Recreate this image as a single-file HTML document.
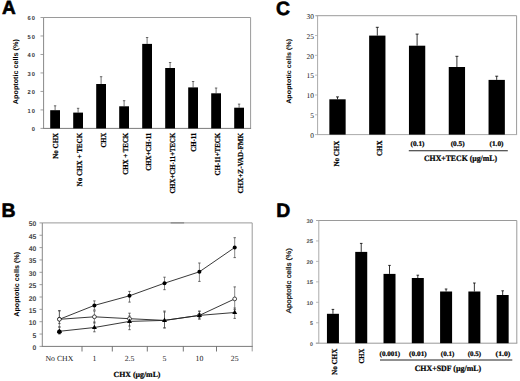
<!DOCTYPE html>
<html><head><meta charset="utf-8"><style>
html,body{margin:0;padding:0;background:#fff;}
body{width:520px;height:381px;overflow:hidden;}
svg{display:block;} text{text-rendering:geometricPrecision;}
</style></head><body>
<svg width="520" height="381" viewBox="0 0 520 381">
<rect width="520" height="381" fill="#fff"/>
<text x="1.9" y="14.3" font-family='"Liberation Sans", sans-serif' font-weight="bold" font-size="19" text-anchor="start" fill="#000" stroke="#000" stroke-width="0.6">A</text>
<line x1="43.6" y1="17.5" x2="250.6" y2="17.5" stroke="#9a9a9a" stroke-width="1"/>
<line x1="250.6" y1="17.5" x2="250.6" y2="128.4" stroke="#9a9a9a" stroke-width="1"/>
<line x1="43.6" y1="17.5" x2="43.6" y2="128.4" stroke="#888888" stroke-width="1"/>
<line x1="43.1" y1="128.4" x2="251.1" y2="128.4" stroke="#7a7a7a" stroke-width="1"/>
<line x1="40.5" y1="128.4" x2="43.6" y2="128.4" stroke="#888888" stroke-width="0.8"/>
<text x="33.45" y="131.3" font-family='"Liberation Sans", sans-serif' font-weight="bold" font-size="5.8" text-anchor="middle" fill="#3a3a3a" textLength="3.2" lengthAdjust="spacingAndGlyphs">0</text>
<line x1="40.5" y1="109.92" x2="43.6" y2="109.92" stroke="#888888" stroke-width="0.8"/>
<text x="33.45" y="112.82" font-family='"Liberation Sans", sans-serif' font-weight="bold" font-size="5.8" text-anchor="middle" fill="#3a3a3a" textLength="3.2" lengthAdjust="spacingAndGlyphs">0</text>
<text x="29" y="112.82" font-family='"Liberation Sans", sans-serif' font-weight="bold" font-size="5.8" text-anchor="middle" fill="#3a3a3a" textLength="3.2" lengthAdjust="spacingAndGlyphs">1</text>
<line x1="40.5" y1="91.43" x2="43.6" y2="91.43" stroke="#888888" stroke-width="0.8"/>
<text x="33.45" y="94.33" font-family='"Liberation Sans", sans-serif' font-weight="bold" font-size="5.8" text-anchor="middle" fill="#3a3a3a" textLength="3.2" lengthAdjust="spacingAndGlyphs">0</text>
<text x="29" y="94.33" font-family='"Liberation Sans", sans-serif' font-weight="bold" font-size="5.8" text-anchor="middle" fill="#3a3a3a" textLength="3.2" lengthAdjust="spacingAndGlyphs">2</text>
<line x1="40.5" y1="72.95" x2="43.6" y2="72.95" stroke="#888888" stroke-width="0.8"/>
<text x="33.45" y="75.85" font-family='"Liberation Sans", sans-serif' font-weight="bold" font-size="5.8" text-anchor="middle" fill="#3a3a3a" textLength="3.2" lengthAdjust="spacingAndGlyphs">0</text>
<text x="29" y="75.85" font-family='"Liberation Sans", sans-serif' font-weight="bold" font-size="5.8" text-anchor="middle" fill="#3a3a3a" textLength="3.2" lengthAdjust="spacingAndGlyphs">3</text>
<line x1="40.5" y1="54.47" x2="43.6" y2="54.47" stroke="#888888" stroke-width="0.8"/>
<text x="33.45" y="57.37" font-family='"Liberation Sans", sans-serif' font-weight="bold" font-size="5.8" text-anchor="middle" fill="#3a3a3a" textLength="3.2" lengthAdjust="spacingAndGlyphs">0</text>
<text x="29" y="57.37" font-family='"Liberation Sans", sans-serif' font-weight="bold" font-size="5.8" text-anchor="middle" fill="#3a3a3a" textLength="3.2" lengthAdjust="spacingAndGlyphs">4</text>
<line x1="40.5" y1="35.98" x2="43.6" y2="35.98" stroke="#888888" stroke-width="0.8"/>
<text x="33.45" y="38.88" font-family='"Liberation Sans", sans-serif' font-weight="bold" font-size="5.8" text-anchor="middle" fill="#3a3a3a" textLength="3.2" lengthAdjust="spacingAndGlyphs">0</text>
<text x="29" y="38.88" font-family='"Liberation Sans", sans-serif' font-weight="bold" font-size="5.8" text-anchor="middle" fill="#3a3a3a" textLength="3.2" lengthAdjust="spacingAndGlyphs">5</text>
<line x1="40.5" y1="17.5" x2="43.6" y2="17.5" stroke="#888888" stroke-width="0.8"/>
<text x="33.45" y="20.4" font-family='"Liberation Sans", sans-serif' font-weight="bold" font-size="5.8" text-anchor="middle" fill="#3a3a3a" textLength="3.2" lengthAdjust="spacingAndGlyphs">0</text>
<text x="29" y="20.4" font-family='"Liberation Sans", sans-serif' font-weight="bold" font-size="5.8" text-anchor="middle" fill="#3a3a3a" textLength="3.2" lengthAdjust="spacingAndGlyphs">6</text>
<text x="17.8" y="71.65" font-family='"Liberation Sans", sans-serif' font-weight="bold" font-size="7.0" text-anchor="middle" fill="#000" transform="rotate(-90 17.8 71.65)" textLength="65" lengthAdjust="spacingAndGlyphs">Apoptotic cells (%)</text>
<line x1="55.1" y1="105.8" x2="55.1" y2="110.2" stroke="#333" stroke-width="0.7"/>
<line x1="53.9" y1="105.8" x2="56.3" y2="105.8" stroke="#333" stroke-width="0.7"/>
<rect x="50.2" y="110.2" width="9.8" height="18.2" fill="#000"/>
<text x="58.3" y="132.8" font-family='"Liberation Serif", serif' font-weight="bold" font-size="7.6" text-anchor="end" fill="#000" transform="rotate(-90 58.3 132.8)" textLength="26" lengthAdjust="spacingAndGlyphs" stroke="#000" stroke-width="0.22">No CHX</text>
<line x1="78.1" y1="108.3" x2="78.1" y2="112.6" stroke="#333" stroke-width="0.7"/>
<line x1="76.9" y1="108.3" x2="79.3" y2="108.3" stroke="#333" stroke-width="0.7"/>
<rect x="73.2" y="112.6" width="9.8" height="15.8" fill="#000"/>
<text x="81.65" y="132.8" font-family='"Liberation Serif", serif' font-weight="bold" font-size="7.6" text-anchor="end" fill="#000" transform="rotate(-90 81.65 132.8)" textLength="53.6" lengthAdjust="spacingAndGlyphs" stroke="#000" stroke-width="0.22">No CHX + TECK</text>
<line x1="101.1" y1="76.7" x2="101.1" y2="84" stroke="#333" stroke-width="0.7"/>
<line x1="99.9" y1="76.7" x2="102.3" y2="76.7" stroke="#333" stroke-width="0.7"/>
<rect x="96.2" y="84" width="9.8" height="44.4" fill="#000"/>
<text x="105.9" y="132.8" font-family='"Liberation Serif", serif' font-weight="bold" font-size="7.6" text-anchor="end" fill="#000" transform="rotate(-90 105.9 132.8)" textLength="14.7" lengthAdjust="spacingAndGlyphs" stroke="#000" stroke-width="0.22">CHX</text>
<line x1="124.1" y1="100.7" x2="124.1" y2="106.3" stroke="#333" stroke-width="0.7"/>
<line x1="122.9" y1="100.7" x2="125.3" y2="100.7" stroke="#333" stroke-width="0.7"/>
<rect x="119.2" y="106.3" width="9.8" height="22.1" fill="#000"/>
<text x="127.75" y="132.8" font-family='"Liberation Serif", serif' font-weight="bold" font-size="7.6" text-anchor="end" fill="#000" transform="rotate(-90 127.75 132.8)" textLength="42" lengthAdjust="spacingAndGlyphs" stroke="#000" stroke-width="0.22">CHX + TECK</text>
<line x1="147.1" y1="37.5" x2="147.1" y2="43.9" stroke="#333" stroke-width="0.7"/>
<line x1="145.9" y1="37.5" x2="148.3" y2="37.5" stroke="#333" stroke-width="0.7"/>
<rect x="142.2" y="43.9" width="9.8" height="84.5" fill="#000"/>
<text x="150.95" y="132.8" font-family='"Liberation Serif", serif' font-weight="bold" font-size="7.6" text-anchor="end" fill="#000" transform="rotate(-90 150.95 132.8)" textLength="37.9" lengthAdjust="spacingAndGlyphs" stroke="#000" stroke-width="0.22">CHX+CH-11</text>
<line x1="170.1" y1="62.5" x2="170.1" y2="68" stroke="#333" stroke-width="0.7"/>
<line x1="168.9" y1="62.5" x2="171.3" y2="62.5" stroke="#333" stroke-width="0.7"/>
<rect x="165.2" y="68" width="9.8" height="60.4" fill="#000"/>
<text x="174.6" y="132.8" font-family='"Liberation Serif", serif' font-weight="bold" font-size="7.6" text-anchor="end" fill="#000" transform="rotate(-90 174.6 132.8)" textLength="60.8" lengthAdjust="spacingAndGlyphs" stroke="#000" stroke-width="0.22">CHX+CH-11+TECK</text>
<line x1="193.1" y1="81.5" x2="193.1" y2="87.4" stroke="#333" stroke-width="0.7"/>
<line x1="191.9" y1="81.5" x2="194.3" y2="81.5" stroke="#333" stroke-width="0.7"/>
<rect x="188.2" y="87.4" width="9.8" height="41" fill="#000"/>
<text x="195.85" y="132.8" font-family='"Liberation Serif", serif' font-weight="bold" font-size="7.6" text-anchor="end" fill="#000" transform="rotate(-90 195.85 132.8)" textLength="19" lengthAdjust="spacingAndGlyphs" stroke="#000" stroke-width="0.22">CH-11</text>
<line x1="216.1" y1="88" x2="216.1" y2="93.3" stroke="#333" stroke-width="0.7"/>
<line x1="214.9" y1="88" x2="217.3" y2="88" stroke="#333" stroke-width="0.7"/>
<rect x="211.2" y="93.3" width="9.8" height="35.1" fill="#000"/>
<text x="219.6" y="132.8" font-family='"Liberation Serif", serif' font-weight="bold" font-size="7.6" text-anchor="end" fill="#000" transform="rotate(-90 219.6 132.8)" textLength="42.7" lengthAdjust="spacingAndGlyphs" stroke="#000" stroke-width="0.22">CH-11+TECK</text>
<line x1="239.1" y1="104.1" x2="239.1" y2="107.7" stroke="#333" stroke-width="0.7"/>
<line x1="237.9" y1="104.1" x2="240.3" y2="104.1" stroke="#333" stroke-width="0.7"/>
<rect x="234.2" y="107.7" width="9.8" height="20.7" fill="#000"/>
<text x="243.25" y="132.8" font-family='"Liberation Serif", serif' font-weight="bold" font-size="7.6" text-anchor="end" fill="#000" transform="rotate(-90 243.25 132.8)" textLength="60.8" lengthAdjust="spacingAndGlyphs" stroke="#000" stroke-width="0.22">CHX+Z-VAD-FMK</text>
<text x="275.9" y="14.6" font-family='"Liberation Sans", sans-serif' font-weight="bold" font-size="19.4" text-anchor="start" fill="#000" stroke="#000" stroke-width="0.6">C</text>
<line x1="316.1" y1="15.7" x2="516.6" y2="15.7" stroke="#9a9a9a" stroke-width="1"/>
<line x1="516.6" y1="15.7" x2="516.6" y2="134.6" stroke="#9a9a9a" stroke-width="1"/>
<line x1="317.6" y1="15.7" x2="317.6" y2="134.6" stroke="#aaaaaa" stroke-width="1"/>
<line x1="317.1" y1="134.6" x2="517.1" y2="134.6" stroke="#aaaaaa" stroke-width="1"/>
<line x1="315" y1="134.6" x2="317.6" y2="134.6" stroke="#aaaaaa" stroke-width="0.8"/>
<text x="314" y="137.9" font-family='"Liberation Serif", serif' font-weight="normal" font-size="7.4" text-anchor="end" fill="#111">0</text>
<line x1="315" y1="114.78" x2="317.6" y2="114.78" stroke="#aaaaaa" stroke-width="0.8"/>
<text x="314" y="118.08" font-family='"Liberation Serif", serif' font-weight="normal" font-size="7.4" text-anchor="end" fill="#111">5</text>
<line x1="315" y1="94.97" x2="317.6" y2="94.97" stroke="#aaaaaa" stroke-width="0.8"/>
<text x="314" y="98.27" font-family='"Liberation Serif", serif' font-weight="normal" font-size="7.4" text-anchor="end" fill="#111">10</text>
<line x1="315" y1="75.15" x2="317.6" y2="75.15" stroke="#aaaaaa" stroke-width="0.8"/>
<text x="314" y="78.45" font-family='"Liberation Serif", serif' font-weight="normal" font-size="7.4" text-anchor="end" fill="#111">15</text>
<line x1="315" y1="55.33" x2="317.6" y2="55.33" stroke="#aaaaaa" stroke-width="0.8"/>
<text x="314" y="58.63" font-family='"Liberation Serif", serif' font-weight="normal" font-size="7.4" text-anchor="end" fill="#111">20</text>
<line x1="315" y1="35.52" x2="317.6" y2="35.52" stroke="#aaaaaa" stroke-width="0.8"/>
<text x="314" y="38.82" font-family='"Liberation Serif", serif' font-weight="normal" font-size="7.4" text-anchor="end" fill="#111">25</text>
<line x1="315" y1="15.7" x2="317.6" y2="15.7" stroke="#aaaaaa" stroke-width="0.8"/>
<text x="314" y="19" font-family='"Liberation Serif", serif' font-weight="normal" font-size="7.4" text-anchor="end" fill="#111">30</text>
<text x="291" y="71.35" font-family='"Liberation Sans", sans-serif' font-weight="bold" font-size="6.6" text-anchor="middle" fill="#000" transform="rotate(-90 291 71.35)" textLength="65" lengthAdjust="spacingAndGlyphs">Apoptotic cells (%)</text>
<line x1="337.5" y1="96.9" x2="337.5" y2="99.3" stroke="#000" stroke-width="0.8"/>
<line x1="336" y1="96.9" x2="339" y2="96.9" stroke="#000" stroke-width="0.8"/>
<rect x="329.35" y="99.3" width="16.3" height="35.3" fill="#000"/>
<line x1="377.3" y1="27.3" x2="377.3" y2="35.6" stroke="#000" stroke-width="0.8"/>
<line x1="375.8" y1="27.3" x2="378.8" y2="27.3" stroke="#000" stroke-width="0.8"/>
<rect x="369.15" y="35.6" width="16.3" height="99" fill="#000"/>
<line x1="417.1" y1="34.1" x2="417.1" y2="45.7" stroke="#000" stroke-width="0.8"/>
<line x1="415.6" y1="34.1" x2="418.6" y2="34.1" stroke="#000" stroke-width="0.8"/>
<rect x="408.95" y="45.7" width="16.3" height="88.9" fill="#000"/>
<line x1="456.9" y1="56.3" x2="456.9" y2="67" stroke="#000" stroke-width="0.8"/>
<line x1="455.4" y1="56.3" x2="458.4" y2="56.3" stroke="#000" stroke-width="0.8"/>
<rect x="448.75" y="67" width="16.3" height="67.6" fill="#000"/>
<line x1="496.7" y1="76.2" x2="496.7" y2="79.9" stroke="#000" stroke-width="0.8"/>
<line x1="495.2" y1="76.2" x2="498.2" y2="76.2" stroke="#000" stroke-width="0.8"/>
<rect x="488.55" y="79.9" width="16.3" height="54.7" fill="#000"/>
<text x="338.8" y="140.6" font-family='"Liberation Serif", serif' font-weight="bold" font-size="7.6" text-anchor="end" fill="#000" transform="rotate(-90 338.8 140.6)" textLength="26" lengthAdjust="spacingAndGlyphs" stroke="#000" stroke-width="0.22">No CHX</text>
<text x="382.3" y="140.6" font-family='"Liberation Serif", serif' font-weight="bold" font-size="7.6" text-anchor="end" fill="#000" transform="rotate(-90 382.3 140.6)" textLength="15.3" lengthAdjust="spacingAndGlyphs" stroke="#000" stroke-width="0.22">CHX</text>
<text x="417.5" y="146.3" font-family='"Liberation Serif", serif' font-weight="bold" font-size="7.1" text-anchor="middle" fill="#000" textLength="14" lengthAdjust="spacingAndGlyphs" stroke="#000" stroke-width="0.22">(0.1)</text>
<text x="457.7" y="146.3" font-family='"Liberation Serif", serif' font-weight="bold" font-size="7.1" text-anchor="middle" fill="#000" textLength="14" lengthAdjust="spacingAndGlyphs" stroke="#000" stroke-width="0.22">(0.5)</text>
<text x="496.5" y="146.3" font-family='"Liberation Serif", serif' font-weight="bold" font-size="7.1" text-anchor="middle" fill="#000" textLength="14" lengthAdjust="spacingAndGlyphs" stroke="#000" stroke-width="0.22">(1.0)</text>
<line x1="408.8" y1="150.7" x2="507.8" y2="150.7" stroke="#222" stroke-width="1.1"/>
<text x="460.5" y="161.3" font-family='"Liberation Serif", serif' font-weight="bold" font-size="8.3" text-anchor="middle" fill="#000" textLength="73" lengthAdjust="spacingAndGlyphs" stroke="#000" stroke-width="0.22">CHX+TECK (µg/mL)</text>
<text x="1.4" y="217.3" font-family='"Liberation Sans", sans-serif' font-weight="bold" font-size="19.4" text-anchor="start" fill="#000" stroke="#000" stroke-width="0.6">B</text>
<line x1="42.3" y1="222.9" x2="252.2" y2="222.9" stroke="#9a9a9a" stroke-width="1"/>
<line x1="252.2" y1="222.9" x2="252.2" y2="351.4" stroke="#9a9a9a" stroke-width="1"/>
<line x1="170.7" y1="222.9" x2="184.1" y2="222.9" stroke="#777" stroke-width="1"/>
<line x1="42.3" y1="222.9" x2="42.3" y2="346.4" stroke="#888888" stroke-width="1"/>
<line x1="41.8" y1="346.4" x2="252.7" y2="346.4" stroke="#7a7a7a" stroke-width="1"/>
<line x1="39.5" y1="346.4" x2="42.3" y2="346.4" stroke="#888888" stroke-width="0.8"/>
<text x="36.2" y="349.9" font-family='"Liberation Sans", sans-serif' font-weight="bold" font-size="6.8" text-anchor="end" fill="#4a4a4a">0</text>
<line x1="39.5" y1="334.05" x2="42.3" y2="334.05" stroke="#888888" stroke-width="0.8"/>
<text x="36.2" y="337.55" font-family='"Liberation Sans", sans-serif' font-weight="bold" font-size="6.8" text-anchor="end" fill="#4a4a4a">5</text>
<line x1="39.5" y1="321.7" x2="42.3" y2="321.7" stroke="#888888" stroke-width="0.8"/>
<text x="36.2" y="325.2" font-family='"Liberation Sans", sans-serif' font-weight="bold" font-size="6.8" text-anchor="end" fill="#4a4a4a">10</text>
<line x1="39.5" y1="309.35" x2="42.3" y2="309.35" stroke="#888888" stroke-width="0.8"/>
<text x="36.2" y="312.85" font-family='"Liberation Sans", sans-serif' font-weight="bold" font-size="6.8" text-anchor="end" fill="#4a4a4a">15</text>
<line x1="39.5" y1="297" x2="42.3" y2="297" stroke="#888888" stroke-width="0.8"/>
<text x="36.2" y="300.5" font-family='"Liberation Sans", sans-serif' font-weight="bold" font-size="6.8" text-anchor="end" fill="#4a4a4a">20</text>
<line x1="39.5" y1="284.65" x2="42.3" y2="284.65" stroke="#888888" stroke-width="0.8"/>
<text x="36.2" y="288.15" font-family='"Liberation Sans", sans-serif' font-weight="bold" font-size="6.8" text-anchor="end" fill="#4a4a4a">25</text>
<line x1="39.5" y1="272.3" x2="42.3" y2="272.3" stroke="#888888" stroke-width="0.8"/>
<text x="36.2" y="275.8" font-family='"Liberation Sans", sans-serif' font-weight="bold" font-size="6.8" text-anchor="end" fill="#4a4a4a">30</text>
<line x1="39.5" y1="259.95" x2="42.3" y2="259.95" stroke="#888888" stroke-width="0.8"/>
<text x="36.2" y="263.45" font-family='"Liberation Sans", sans-serif' font-weight="bold" font-size="6.8" text-anchor="end" fill="#4a4a4a">35</text>
<line x1="39.5" y1="247.6" x2="42.3" y2="247.6" stroke="#888888" stroke-width="0.8"/>
<text x="36.2" y="251.1" font-family='"Liberation Sans", sans-serif' font-weight="bold" font-size="6.8" text-anchor="end" fill="#4a4a4a">40</text>
<line x1="39.5" y1="235.25" x2="42.3" y2="235.25" stroke="#888888" stroke-width="0.8"/>
<text x="36.2" y="238.75" font-family='"Liberation Sans", sans-serif' font-weight="bold" font-size="6.8" text-anchor="end" fill="#4a4a4a">45</text>
<line x1="39.5" y1="222.9" x2="42.3" y2="222.9" stroke="#888888" stroke-width="0.8"/>
<text x="36.2" y="226.4" font-family='"Liberation Sans", sans-serif' font-weight="bold" font-size="6.8" text-anchor="end" fill="#4a4a4a">50</text>
<text x="18.8" y="284.35" font-family='"Liberation Sans", sans-serif' font-weight="bold" font-size="7.0" text-anchor="middle" fill="#000" transform="rotate(-90 18.8 284.35)" textLength="65" lengthAdjust="spacingAndGlyphs">Apoptotic cells (%)</text>
<line x1="82" y1="346.4" x2="82" y2="351.5" stroke="#666" stroke-width="0.9"/>
<line x1="112.3" y1="346.4" x2="112.3" y2="351.5" stroke="#666" stroke-width="0.9"/>
<line x1="147.3" y1="346.4" x2="147.3" y2="351.5" stroke="#666" stroke-width="0.9"/>
<line x1="183.3" y1="346.4" x2="183.3" y2="351.5" stroke="#666" stroke-width="0.9"/>
<line x1="216.5" y1="346.4" x2="216.5" y2="351.5" stroke="#666" stroke-width="0.9"/>
<text x="59.4" y="361" font-family='"Liberation Serif", serif' font-weight="normal" font-size="7.8" text-anchor="middle" fill="#222">No CHX</text>
<text x="94.4" y="361" font-family='"Liberation Serif", serif' font-weight="normal" font-size="7.8" text-anchor="middle" fill="#222">1</text>
<text x="129.5" y="361" font-family='"Liberation Serif", serif' font-weight="normal" font-size="7.8" text-anchor="middle" fill="#222">2.5</text>
<text x="164.5" y="361" font-family='"Liberation Serif", serif' font-weight="normal" font-size="7.8" text-anchor="middle" fill="#222">5</text>
<text x="199.4" y="361" font-family='"Liberation Serif", serif' font-weight="normal" font-size="7.8" text-anchor="middle" fill="#222">10</text>
<text x="234.7" y="361" font-family='"Liberation Serif", serif' font-weight="normal" font-size="7.8" text-anchor="middle" fill="#222">25</text>
<text x="137" y="377.4" font-family='"Liberation Serif", serif' font-weight="bold" font-size="7.8" text-anchor="middle" fill="#000" textLength="47" lengthAdjust="spacingAndGlyphs" stroke="#000" stroke-width="0.22">CHX (µg/mL)</text>
<line x1="59.4" y1="311" x2="59.4" y2="327" stroke="#555" stroke-width="0.7"/>
<line x1="58.2" y1="311" x2="60.6" y2="311" stroke="#444" stroke-width="0.8"/>
<line x1="58.2" y1="327" x2="60.6" y2="327" stroke="#444" stroke-width="0.8"/>
<line x1="59.4" y1="310.5" x2="59.4" y2="323.6" stroke="#555" stroke-width="0.7"/>
<line x1="58.2" y1="310.5" x2="60.6" y2="310.5" stroke="#444" stroke-width="0.8"/>
<line x1="58.2" y1="323.6" x2="60.6" y2="323.6" stroke="#444" stroke-width="0.8"/>
<line x1="59.4" y1="327" x2="59.4" y2="334" stroke="#555" stroke-width="0.7"/>
<line x1="58.2" y1="327" x2="60.6" y2="327" stroke="#444" stroke-width="0.8"/>
<line x1="58.2" y1="334" x2="60.6" y2="334" stroke="#444" stroke-width="0.8"/>
<line x1="94.4" y1="300.9" x2="94.4" y2="310" stroke="#555" stroke-width="0.7"/>
<line x1="93.2" y1="300.9" x2="95.6" y2="300.9" stroke="#444" stroke-width="0.8"/>
<line x1="93.2" y1="310" x2="95.6" y2="310" stroke="#444" stroke-width="0.8"/>
<line x1="94.4" y1="311" x2="94.4" y2="323" stroke="#555" stroke-width="0.7"/>
<line x1="93.2" y1="311" x2="95.6" y2="311" stroke="#444" stroke-width="0.8"/>
<line x1="93.2" y1="323" x2="95.6" y2="323" stroke="#444" stroke-width="0.8"/>
<line x1="94.4" y1="322" x2="94.4" y2="331.8" stroke="#555" stroke-width="0.7"/>
<line x1="93.2" y1="322" x2="95.6" y2="322" stroke="#444" stroke-width="0.8"/>
<line x1="93.2" y1="331.8" x2="95.6" y2="331.8" stroke="#444" stroke-width="0.8"/>
<line x1="129.5" y1="291.4" x2="129.5" y2="302.1" stroke="#555" stroke-width="0.7"/>
<line x1="128.3" y1="291.4" x2="130.7" y2="291.4" stroke="#444" stroke-width="0.8"/>
<line x1="128.3" y1="302.1" x2="130.7" y2="302.1" stroke="#444" stroke-width="0.8"/>
<line x1="129.5" y1="313.2" x2="129.5" y2="326" stroke="#555" stroke-width="0.7"/>
<line x1="128.3" y1="313.2" x2="130.7" y2="313.2" stroke="#444" stroke-width="0.8"/>
<line x1="128.3" y1="326" x2="130.7" y2="326" stroke="#444" stroke-width="0.8"/>
<line x1="129.5" y1="316" x2="129.5" y2="329.7" stroke="#555" stroke-width="0.7"/>
<line x1="128.3" y1="316" x2="130.7" y2="316" stroke="#444" stroke-width="0.8"/>
<line x1="128.3" y1="329.7" x2="130.7" y2="329.7" stroke="#444" stroke-width="0.8"/>
<line x1="164.5" y1="277.2" x2="164.5" y2="289.7" stroke="#555" stroke-width="0.7"/>
<line x1="163.3" y1="277.2" x2="165.7" y2="277.2" stroke="#444" stroke-width="0.8"/>
<line x1="163.3" y1="289.7" x2="165.7" y2="289.7" stroke="#444" stroke-width="0.8"/>
<line x1="164.5" y1="311" x2="164.5" y2="328" stroke="#555" stroke-width="0.7"/>
<line x1="163.3" y1="311" x2="165.7" y2="311" stroke="#444" stroke-width="0.8"/>
<line x1="163.3" y1="328" x2="165.7" y2="328" stroke="#444" stroke-width="0.8"/>
<line x1="164.5" y1="312" x2="164.5" y2="327.8" stroke="#555" stroke-width="0.7"/>
<line x1="163.3" y1="312" x2="165.7" y2="312" stroke="#444" stroke-width="0.8"/>
<line x1="163.3" y1="327.8" x2="165.7" y2="327.8" stroke="#444" stroke-width="0.8"/>
<line x1="199.4" y1="263" x2="199.4" y2="281.4" stroke="#555" stroke-width="0.7"/>
<line x1="198.2" y1="263" x2="200.6" y2="263" stroke="#444" stroke-width="0.8"/>
<line x1="198.2" y1="281.4" x2="200.6" y2="281.4" stroke="#444" stroke-width="0.8"/>
<line x1="199.4" y1="311.2" x2="199.4" y2="319" stroke="#555" stroke-width="0.7"/>
<line x1="198.2" y1="311.2" x2="200.6" y2="311.2" stroke="#444" stroke-width="0.8"/>
<line x1="198.2" y1="319" x2="200.6" y2="319" stroke="#444" stroke-width="0.8"/>
<line x1="199.4" y1="311.2" x2="199.4" y2="319" stroke="#555" stroke-width="0.7"/>
<line x1="198.2" y1="311.2" x2="200.6" y2="311.2" stroke="#444" stroke-width="0.8"/>
<line x1="198.2" y1="319" x2="200.6" y2="319" stroke="#444" stroke-width="0.8"/>
<line x1="234.7" y1="237.7" x2="234.7" y2="257.6" stroke="#555" stroke-width="0.7"/>
<line x1="233.5" y1="237.7" x2="235.9" y2="237.7" stroke="#444" stroke-width="0.8"/>
<line x1="233.5" y1="257.6" x2="235.9" y2="257.6" stroke="#444" stroke-width="0.8"/>
<line x1="234.7" y1="286.9" x2="234.7" y2="309.6" stroke="#555" stroke-width="0.7"/>
<line x1="233.5" y1="286.9" x2="235.9" y2="286.9" stroke="#444" stroke-width="0.8"/>
<line x1="233.5" y1="309.6" x2="235.9" y2="309.6" stroke="#444" stroke-width="0.8"/>
<line x1="234.7" y1="308" x2="234.7" y2="318.4" stroke="#555" stroke-width="0.7"/>
<line x1="233.5" y1="308" x2="235.9" y2="308" stroke="#444" stroke-width="0.8"/>
<line x1="233.5" y1="318.4" x2="235.9" y2="318.4" stroke="#444" stroke-width="0.8"/>
<polyline points="59.4,331.3 94.4,327.5 129.5,321.4 164.5,320.4 199.4,315.4 234.7,312.5" fill="none" stroke="#222" stroke-width="0.9"/>
<polyline points="59.4,319.3 94.4,316.8 129.5,318.7 164.5,320.4 199.4,315.4 234.7,298.9" fill="none" stroke="#222" stroke-width="0.9"/>
<polyline points="59.4,319.3 94.4,305.4 129.5,295.8 164.5,283.2 199.4,271.8 234.7,247.5" fill="none" stroke="#222" stroke-width="0.9"/>
<circle cx="59.4" cy="319.3" r="2.0" fill="#000"/>
<circle cx="94.4" cy="305.4" r="2.0" fill="#000"/>
<circle cx="129.5" cy="295.8" r="2.0" fill="#000"/>
<circle cx="164.5" cy="283.2" r="2.0" fill="#000"/>
<circle cx="199.4" cy="271.8" r="2.0" fill="#000"/>
<circle cx="234.7" cy="247.5" r="2.0" fill="#000"/>
<circle cx="59.4" cy="319.3" r="1.9" fill="#fff" stroke="#000" stroke-width="0.7"/>
<circle cx="94.4" cy="316.8" r="1.9" fill="#fff" stroke="#000" stroke-width="0.7"/>
<circle cx="129.5" cy="318.7" r="1.9" fill="#fff" stroke="#000" stroke-width="0.7"/>
<circle cx="199.4" cy="315.4" r="1.9" fill="#fff" stroke="#000" stroke-width="0.7"/>
<circle cx="234.7" cy="298.9" r="1.9" fill="#fff" stroke="#000" stroke-width="0.7"/>
<polygon points="59.4,328.5 56.9,332.9 61.9,332.9" fill="#000"/>
<polygon points="94.4,324.7 91.9,329.1 96.9,329.1" fill="#000"/>
<polygon points="129.5,318.6 127,323 132,323" fill="#000"/>
<polygon points="164.5,317.6 162,322 167,322" fill="#000"/>
<polygon points="199.4,312.6 196.9,317 201.9,317" fill="#000"/>
<polygon points="234.7,309.7 232.2,314.1 237.2,314.1" fill="#000"/>
<circle cx="59.4" cy="331.8" r="2.3" fill="#000"/>
<text x="276.2" y="217.3" font-family='"Liberation Sans", sans-serif' font-weight="bold" font-size="19.4" text-anchor="start" fill="#000" stroke="#000" stroke-width="0.6">D</text>
<line x1="316.3" y1="220.5" x2="516.8" y2="220.5" stroke="#9a9a9a" stroke-width="1"/>
<line x1="516.8" y1="220.5" x2="516.8" y2="343.2" stroke="#9a9a9a" stroke-width="1"/>
<line x1="318.8" y1="220.5" x2="318.8" y2="343.2" stroke="#aaaaaa" stroke-width="1"/>
<line x1="315.8" y1="343.2" x2="517.3" y2="343.2" stroke="#999" stroke-width="1"/>
<line x1="316" y1="343.2" x2="318.8" y2="343.2" stroke="#aaaaaa" stroke-width="0.8"/>
<text x="313" y="345.6" font-family='"Liberation Sans", sans-serif' font-weight="bold" font-size="5.3" text-anchor="end" fill="#555">0</text>
<line x1="316" y1="322.75" x2="318.8" y2="322.75" stroke="#aaaaaa" stroke-width="0.8"/>
<text x="313" y="325.15" font-family='"Liberation Sans", sans-serif' font-weight="bold" font-size="5.3" text-anchor="end" fill="#555">5</text>
<line x1="316" y1="302.3" x2="318.8" y2="302.3" stroke="#aaaaaa" stroke-width="0.8"/>
<text x="313.1" y="304.7" font-family='"Liberation Sans", sans-serif' font-weight="bold" font-size="5.3" text-anchor="end" fill="#555" textLength="6.6" lengthAdjust="spacingAndGlyphs">10</text>
<line x1="316" y1="281.85" x2="318.8" y2="281.85" stroke="#aaaaaa" stroke-width="0.8"/>
<text x="313.1" y="284.25" font-family='"Liberation Sans", sans-serif' font-weight="bold" font-size="5.3" text-anchor="end" fill="#555" textLength="6.6" lengthAdjust="spacingAndGlyphs">15</text>
<line x1="316" y1="261.4" x2="318.8" y2="261.4" stroke="#aaaaaa" stroke-width="0.8"/>
<text x="313.1" y="263.8" font-family='"Liberation Sans", sans-serif' font-weight="bold" font-size="5.3" text-anchor="end" fill="#555" textLength="6.6" lengthAdjust="spacingAndGlyphs">20</text>
<line x1="316" y1="240.95" x2="318.8" y2="240.95" stroke="#aaaaaa" stroke-width="0.8"/>
<text x="313.1" y="243.35" font-family='"Liberation Sans", sans-serif' font-weight="bold" font-size="5.3" text-anchor="end" fill="#555" textLength="6.6" lengthAdjust="spacingAndGlyphs">25</text>
<line x1="316" y1="220.5" x2="318.8" y2="220.5" stroke="#aaaaaa" stroke-width="0.8"/>
<text x="313.1" y="222.9" font-family='"Liberation Sans", sans-serif' font-weight="bold" font-size="5.3" text-anchor="end" fill="#555" textLength="6.6" lengthAdjust="spacingAndGlyphs">30</text>
<text x="291" y="280.75" font-family='"Liberation Sans", sans-serif' font-weight="normal" font-size="6.9" text-anchor="middle" fill="#111" transform="rotate(-90 291 280.75)" stroke="#111" stroke-width="0.25" textLength="65" lengthAdjust="spacingAndGlyphs">Apoptotic cells (%)</text>
<line x1="332.94" y1="309.4" x2="332.94" y2="313.8" stroke="#000" stroke-width="0.8"/>
<line x1="331.64" y1="309.4" x2="334.24" y2="309.4" stroke="#000" stroke-width="0.8"/>
<rect x="326.94" y="313.8" width="12" height="29.4" fill="#000"/>
<line x1="361.23" y1="243.4" x2="361.23" y2="251.9" stroke="#000" stroke-width="0.8"/>
<line x1="359.93" y1="243.4" x2="362.53" y2="243.4" stroke="#000" stroke-width="0.8"/>
<rect x="355.23" y="251.9" width="12" height="91.3" fill="#000"/>
<line x1="389.51" y1="265.4" x2="389.51" y2="273.9" stroke="#000" stroke-width="0.8"/>
<line x1="388.21" y1="265.4" x2="390.81" y2="265.4" stroke="#000" stroke-width="0.8"/>
<rect x="383.51" y="273.9" width="12" height="69.3" fill="#000"/>
<line x1="417.8" y1="275.2" x2="417.8" y2="278" stroke="#000" stroke-width="0.8"/>
<line x1="416.5" y1="275.2" x2="419.1" y2="275.2" stroke="#000" stroke-width="0.8"/>
<rect x="411.8" y="278" width="12" height="65.2" fill="#000"/>
<line x1="446.09" y1="289" x2="446.09" y2="291.5" stroke="#000" stroke-width="0.8"/>
<line x1="444.79" y1="289" x2="447.39" y2="289" stroke="#000" stroke-width="0.8"/>
<rect x="440.09" y="291.5" width="12" height="51.7" fill="#000"/>
<line x1="474.37" y1="283" x2="474.37" y2="291.5" stroke="#000" stroke-width="0.8"/>
<line x1="473.07" y1="283" x2="475.67" y2="283" stroke="#000" stroke-width="0.8"/>
<rect x="468.37" y="291.5" width="12" height="51.7" fill="#000"/>
<line x1="502.66" y1="290.8" x2="502.66" y2="295" stroke="#000" stroke-width="0.8"/>
<line x1="501.36" y1="290.8" x2="503.96" y2="290.8" stroke="#000" stroke-width="0.8"/>
<rect x="496.66" y="295" width="12" height="48.2" fill="#000"/>
<text x="337.5" y="348.7" font-family='"Liberation Serif", serif' font-weight="bold" font-size="7.6" text-anchor="end" fill="#000" transform="rotate(-90 337.5 348.7)" textLength="26.3" lengthAdjust="spacingAndGlyphs" stroke="#000" stroke-width="0.22">No CHX</text>
<text x="364.3" y="348.7" font-family='"Liberation Serif", serif' font-weight="bold" font-size="7.6" text-anchor="end" fill="#000" transform="rotate(-90 364.3 348.7)" textLength="14.8" lengthAdjust="spacingAndGlyphs" stroke="#000" stroke-width="0.22">CHX</text>
<text x="389.9" y="356.3" font-family='"Liberation Serif", serif' font-weight="bold" font-size="6.9" text-anchor="middle" fill="#000" textLength="20.6" lengthAdjust="spacingAndGlyphs" stroke="#000" stroke-width="0.22">(0.001)</text>
<text x="417.9" y="356.3" font-family='"Liberation Serif", serif' font-weight="bold" font-size="6.9" text-anchor="middle" fill="#000" textLength="17.7" lengthAdjust="spacingAndGlyphs" stroke="#000" stroke-width="0.22">(0.01)</text>
<text x="447.6" y="356.3" font-family='"Liberation Serif", serif' font-weight="bold" font-size="6.9" text-anchor="middle" fill="#000" textLength="13.6" lengthAdjust="spacingAndGlyphs" stroke="#000" stroke-width="0.22">(0.1)</text>
<text x="474.3" y="356.3" font-family='"Liberation Serif", serif' font-weight="bold" font-size="6.9" text-anchor="middle" fill="#000" textLength="13.3" lengthAdjust="spacingAndGlyphs" stroke="#000" stroke-width="0.22">(0.5)</text>
<text x="503" y="356.3" font-family='"Liberation Serif", serif' font-weight="bold" font-size="6.9" text-anchor="middle" fill="#000" textLength="14.8" lengthAdjust="spacingAndGlyphs" stroke="#000" stroke-width="0.22">(1.0)</text>
<line x1="380" y1="360" x2="512.3" y2="360" stroke="#222" stroke-width="1.2"/>
<text x="447.9" y="371" font-family='"Liberation Serif", serif' font-weight="bold" font-size="8.2" text-anchor="middle" fill="#000" textLength="66.5" lengthAdjust="spacingAndGlyphs" stroke="#000" stroke-width="0.22">CHX+SDF (µg/mL)</text>
</svg>
</body></html>
